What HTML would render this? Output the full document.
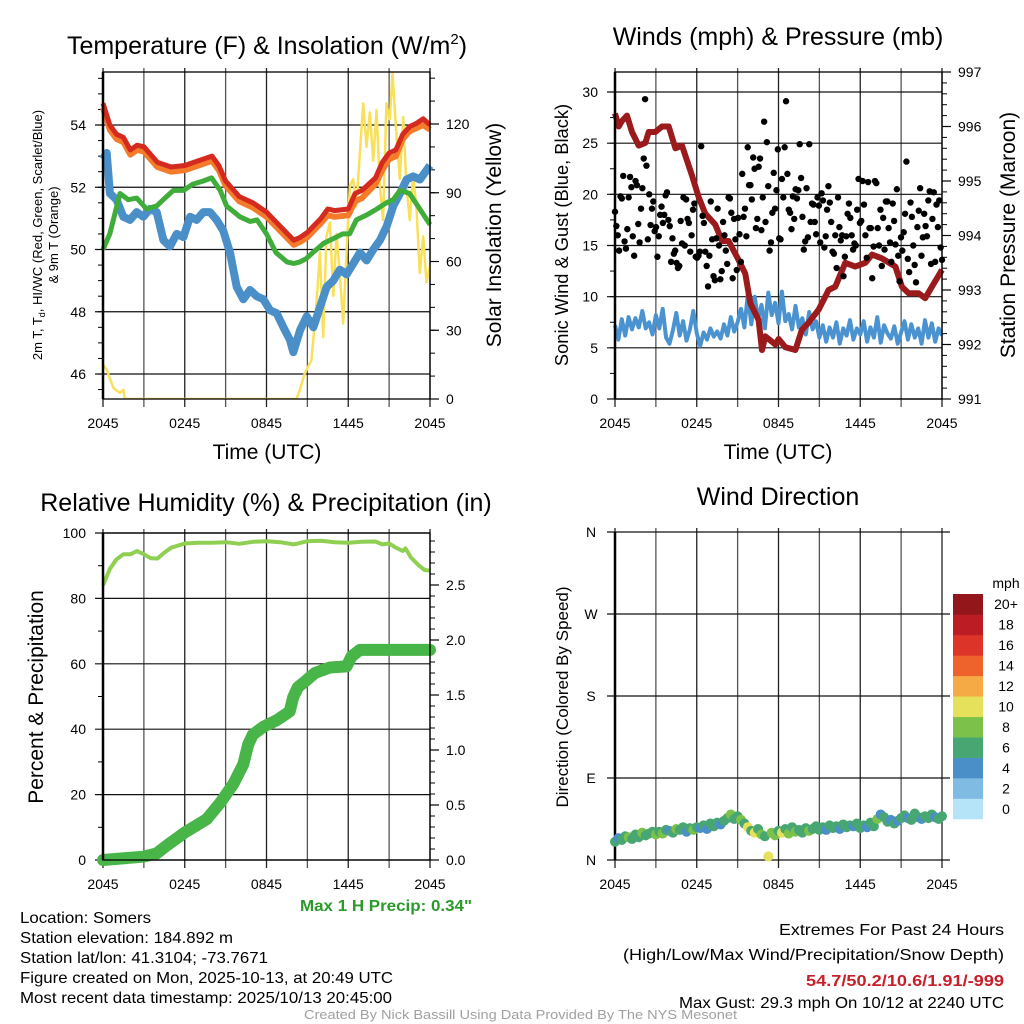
<!DOCTYPE html>
<html><head><meta charset="utf-8"><title>Mesonet Meteogram - Somers</title>
<style>
html,body{margin:0;padding:0;background:#fff;}
svg{display:block;font-family:"Liberation Sans",Arial,sans-serif;}
.tk{font-size:14px;fill:#000;}
.nar{font-family:"Liberation Sans Narrow","Liberation Sans",sans-serif;}
</style></head>
<body>
<svg id="chart" width="1024" height="1024" viewBox="0 0 1024 1024" xmlns="http://www.w3.org/2000/svg">
<rect width="1024" height="1024" fill="#fff"/>
<g id="g1"></g>
<g id="g2"></g>
<g id="g3"></g>
<g id="g4"></g>

<text x="267" y="54" text-anchor="middle" font-size="25">Temperature (F) &amp; Insolation (W/m<tspan dy="-10" font-size="15">2</tspan><tspan dy="10">)</tspan></text>
<text x="778" y="45" text-anchor="middle" font-size="25">Winds (mph) &amp; Pressure (mb)</text>
<text x="266" y="511" text-anchor="middle" font-size="25">Relative Humidity (%) &amp; Precipitation (in)</text>
<text x="778" y="505" text-anchor="middle" font-size="25">Wind Direction</text>

<text x="267" y="459" text-anchor="middle" font-size="21">Time (UTC)</text>
<text x="778" y="459" text-anchor="middle" font-size="21">Time (UTC)</text>

<text transform="translate(42,235) rotate(-90)" text-anchor="middle" font-size="13">2m T, T<tspan font-size="9" dy="3">d</tspan><tspan dy="-3">, HI/WC (Red, Green, Scarlet/Blue)</tspan></text>
<text transform="translate(58,235) rotate(-90)" text-anchor="middle" font-size="13">&amp; 9m T (Orange)</text>
<text transform="translate(501,235) rotate(-90)" text-anchor="middle" font-size="21">Solar Insolation (Yellow)</text>
<text transform="translate(568,235) rotate(-90)" text-anchor="middle" font-size="18.3">Sonic Wind &amp; Gust (Blue, Black)</text>
<text transform="translate(1015,235) rotate(-90)" text-anchor="middle" font-size="21">Station Pressure (Maroon)</text>
<text transform="translate(43,697) rotate(-90)" text-anchor="middle" font-size="21">Percent &amp; Precipitation</text>
<text transform="translate(568,697) rotate(-90)" text-anchor="middle" font-size="17">Direction (Colored By Speed)</text>

<text class="nar" x="300" y="911" font-size="16" font-weight="bold" fill="#2b9a2b" textLength="172" lengthAdjust="spacingAndGlyphs">Max 1 H Precip: 0.34"</text>
<g class="nar" font-size="16">
<text x="20" y="923" textLength="131" lengthAdjust="spacingAndGlyphs">Location: Somers</text>
<text x="20" y="943" textLength="213" lengthAdjust="spacingAndGlyphs">Station elevation: 184.892 m</text>
<text x="20" y="963" textLength="248" lengthAdjust="spacingAndGlyphs">Station lat/lon: 41.3104; -73.7671</text>
<text x="20" y="983" textLength="373" lengthAdjust="spacingAndGlyphs">Figure created on Mon, 2025-10-13, at 20:49 UTC</text>
<text x="20" y="1003" textLength="372" lengthAdjust="spacingAndGlyphs">Most recent data timestamp: 2025/10/13 20:45:00</text>
</g>
<g class="nar" font-size="16">
<text x="779" y="935" textLength="225" lengthAdjust="spacingAndGlyphs">Extremes For Past 24 Hours</text>
<text x="623" y="960" textLength="381" lengthAdjust="spacingAndGlyphs">(High/Low/Max Wind/Precipitation/Snow Depth)</text>
<text x="806" y="986" font-weight="bold" fill="#c8202a" textLength="198" lengthAdjust="spacingAndGlyphs">54.7/50.2/10.6/1.91/-999</text>
<text x="679" y="1008" textLength="325" lengthAdjust="spacingAndGlyphs">Max Gust: 29.3 mph On 10/12 at 2240 UTC</text>
</g>
<text class="nar" x="304" y="1019" font-size="13" fill="#a0a0a0" textLength="433" lengthAdjust="spacingAndGlyphs">Created By Nick Bassill Using Data Provided By The NYS Mesonet</text>
</svg>
<script>
// ---------- data ----------
const xTickLabels = ["2045","0245","0845","1445","2045"];
const tempTicks = [46,48,50,52,54];
const solarTicks = [0,30,60,90,120];
const windTicks = [0,5,10,15,20,25,30];
const presTicks = [991,992,993,994,995,996,997];
const rhTicks = [0,20,40,60,80,100];
const precipTicks = [0.0,0.5,1.0,1.5,2.0,2.5];
const dirTicks = [0,90,180,270,360];
const dirTickLabels = ["N","E","S","W","N"];

const redT = [0,0.5,1,1.5,2,2.5,3,4,5,6,7,8,8.5,9,10,11,12,13,14,14.5,15,16,16.5,17,18,18.5,19,20,20.5,21,21.5,22,22.5,23,23.5,24];
const redV = [54.7,54.0,53.7,53.6,53.2,53.35,53.3,52.8,52.65,52.7,52.85,53.0,52.7,52.2,51.7,51.5,51.2,50.75,50.3,50.4,50.55,51.0,51.3,51.25,51.3,51.8,51.9,52.3,52.8,53.1,53.2,53.7,53.95,54.05,54.2,54.0];
const orangeV = [54.55,53.85,53.55,53.45,53.05,53.2,53.15,52.65,52.5,52.55,52.7,52.85,52.55,52.05,51.55,51.35,51.05,50.6,50.15,50.25,50.4,50.85,51.1,51.05,51.1,51.55,51.65,52.1,52.55,52.9,53.0,53.55,53.8,53.9,54.0,53.85];
const greenT = [0,0.5,1.25,1.86,2.47,3.2,3.94,4.67,5.16,5.9,6.6,7.36,7.97,8.6,9.07,10.05,10.8,11.3,12.0,12.7,13.5,14.0,14.45,14.9,15.4,16.2,16.9,17.6,18.1,18.6,19.3,20.1,20.8,21.3,21.8,22.5,23.25,24];
const greenV = [50.0,50.5,51.8,51.6,51.65,51.3,51.4,51.7,51.9,51.9,52.1,52.2,52.3,51.9,51.4,51.05,50.9,50.95,50.5,49.9,49.6,49.55,49.6,49.7,49.9,50.2,50.35,50.5,50.5,50.95,51.1,51.3,51.5,51.6,51.9,51.8,51.3,50.8];
const blueT = [0,0.27,0.51,1.0,1.49,1.98,2.47,2.96,3.45,3.94,4.43,4.92,5.41,5.9,6.39,6.87,7.36,7.85,8.34,8.83,9.32,9.81,10.3,10.79,11.28,11.77,12.26,12.75,13.24,13.72,13.97,14.46,14.95,15.44,15.93,16.42,16.9,17.39,17.88,18.37,18.86,19.35,19.84,20.33,20.82,21.31,21.8,22.28,22.77,23.26,24];
const blueV = [52.9,53.1,51.8,51.6,51.05,50.95,51.2,51.05,51.3,51.2,50.3,50.1,50.5,50.4,51.05,50.95,51.2,51.2,50.95,50.6,49.9,48.8,48.4,48.7,48.5,48.4,48.05,47.95,47.5,47.1,46.7,47.4,47.85,47.5,48.15,48.8,49.0,49.35,49.2,49.55,49.9,49.65,50.0,50.3,50.75,51.4,51.8,52.25,52.35,52.25,52.7];
const solarT = [0,0.27,0.76,1.25,1.49,1.61,14.2,14.45,14.8,15.3,15.67,15.92,16.16,16.4,16.65,16.9,17.14,17.38,17.63,17.87,18.12,18.36,18.6,18.85,19.1,19.34,19.58,19.83,20.07,20.32,20.56,20.8,21.05,21.25,21.54,21.78,22.03,22.27,22.52,22.76,23.0,23.25,23.5,23.74,24];
const solarV = [15,12.8,4.8,2.6,4,0,0,4,11,17,42,64,27,71,77,45,72,55,33,64,93,96,84,107,129,110,125,104,126,93,78,129,122,142,115,96,123,93,78,97,84,55,71,51,58];

const presT = [0,0.27,0.51,0.88,1.25,1.74,2.23,2.47,2.96,3.45,3.94,4.43,4.92,5.65,6.14,6.63,7.36,7.85,8.34,9.07,9.56,9.93,10.54,10.79,11.03,11.77,12.01,12.5,13.24,13.72,14.21,14.95,15.68,16.17,16.9,17.63,18.37,18.86,19.6,20.58,21.06,21.55,22.28,22.77,23.26,24];
const presV = [996.24,996.0,996.1,996.2,995.9,995.65,995.7,995.9,995.9,996.0,996.0,995.6,995.65,995.1,994.7,994.4,994.2,993.9,993.9,993.55,993.3,992.76,992.45,991.9,992.15,992.0,992.1,991.95,991.9,992.27,992.4,992.64,993.0,993.06,993.5,993.43,993.5,993.65,993.58,993.43,993.06,992.94,992.94,992.85,993.06,993.37];
// sonic wind speed every 15 min (0..24h)
const windV = [7.2,5.8,7.8,6.2,8.0,6.8,7.9,7.0,8.6,6.9,7.5,6.3,8.2,
 6.9,8.8,6.0,5.4,6.7,8.4,6.2,7.6,5.7,6.8,8.6,6.4,
 5.2,6.5,5.8,6.9,6.1,6.6,5.9,7.3,6.2,8.0,6.6,7.5,
 8.8,7.0,10.2,7.3,10.0,7.8,9.2,6.9,10.4,8.2,9.4,7.4,
 10.5,7.6,8.3,6.8,9.1,7.0,7.9,6.3,8.5,6.8,7.6,6.0,
 7.2,5.6,7.0,6.0,7.5,5.4,6.9,6.2,7.7,5.8,6.9,6.3,
 7.6,5.6,7.0,6.0,8.0,5.5,7.2,6.4,5.9,7.1,5.4,6.5,
 7.6,5.8,7.3,6.0,6.9,5.4,7.7,6.0,7.4,5.6,6.9,6.2];
// wind direction (deg) every 15 min
const dirV = [20,24,22,26,25,23,28,25,30,27,29,31,28,
 31,29,33,32,30,34,33,36,31,35,33,36,
 35,38,34,40,37,41,39,43,46,50,45,48,
 44,40,36,32,30,34,28,26,4,30,27,32,
 30,34,29,36,31,33,30,35,32,34,37,33,
 36,33,38,35,37,34,39,36,38,37,40,35,
 38,36,41,37,45,50,47,42,44,40,43,46,
 49,46,44,51,47,45,48,46,50,47,45,48];
// gust values in chronological order (evenly spaced over 24h)
const gustV = [18.3,16.9,16.0,14.5,19.8,19.6,21.8,15.4,14.7,16.6,19.7,21.7,20.7,15.9,14.0,21.3,20.9,17.1,15.3,18.6,20.6,23.5,29.3,22.8,15.6,20.0,17.0,18.6,19.3,16.4,16.8,13.9,15.9,18.0,
 18.8,17.2,18.0,19.9,20.2,17.5,16.9,13.4,15.7,14.2,14.5,13.3,12.8,13.0,17.4,15.2,19.7,15.0,19.5,17.6,17.2,14.4,16.0,18.5,19.1,13.9,13.8,14.0,14.4,24.7,
 17.9,17.2,14.4,13.0,11.0,14.0,19.3,15.6,12.0,11.6,15.7,18.6,15.0,11.7,12.5,17.3,16.0,14.5,13.2,19.7,19.6,18.2,11.8,17.6,15.6,12.6,17.7,16.1,13.4,
 22.0,17.8,18.6,15.9,24.6,20.9,20.9,19.5,23.6,22.5,16.7,17.6,22.7,23.5,16.5,19.7,27.1,17.3,25.1,20.8,14.5,15.3,18.2,22.1,18.6,20.4,24.4,15.7,
 15.6,21.5,19.7,24.6,29.1,22.0,18.5,18.2,16.6,19.8,17.6,20.5,19.6,20.4,24.9,21.6,17.8,14.6,15.4,20.6,15.8,24.9,17.3,19.1,19.0,17.3,16.1,19.7,
 18.9,15.3,20.1,19.4,14.8,15.9,18.5,20.8,19.2,17.3,14.4,14.2,16.0,12.8,19.7,16.8,15.5,16.0,12.0,13.9,15.9,18.1,19.1,17.7,16.0,14.6,15.2,15.0,
 18.5,21.5,17.2,17.4,21.3,19.0,16.0,13.8,21.2,16.7,16.7,11.8,14.9,21.3,21.1,16.7,15.0,18.5,13.0,17.7,14.6,19.3,19.3,16.7,15.3,13.4,19.1,17.4,15.1,
 20.5,14.0,11.5,15.8,14.5,16.3,18.1,23.2,13.7,12.4,19.2,17.8,15.0,13.1,11.4,16.8,18.4,20.6,14.0,15.8,18.1,16.9,15.9,19.4,20.3,13.2,17.6,20.2,13.4,19.0,16.8,19.4,14.8,13.6];

const rhT = [0,0.5,1,1.5,2,2.5,3,3.5,4,4.5,5,6,7,8,9,10,11,12,13,14,15,16,17,18,19,20,20.5,21,21.5,22,22.2,22.6,23.2,23.6,24];
const rhV = [84,89,92,93.5,93.5,94.5,93.5,92.3,92.2,94,95.5,96.8,97,97,97.2,96.7,97.3,97.5,97.2,96.5,97.5,97.6,97.2,97,97.3,97.4,96.5,96.8,95.5,94.5,95.3,92.5,90,88.7,88.5];
const precipT = [0,2.96,3.94,4.67,6.0,7.6,8.6,9.56,10.3,10.66,11.0,11.76,12.74,13.7,13.96,14.3,14.9,15.55,16.65,17.87,18.24,18.85,24];
const precipV = [0,0.03,0.06,0.13,0.25,0.37,0.52,0.69,0.87,1.05,1.14,1.21,1.27,1.35,1.48,1.57,1.63,1.70,1.75,1.76,1.85,1.91,1.91];

const speedBins = [0,2,4,6,8,10,12,14,16,18,20];
const speedBinLabels = ["0","2","4","6","8","10","12","14","16","18","20+"];
const speedColors = ["#b5e3f8","#80bbe4","#4a8fc7","#48a673","#7cc24a","#e6e15a","#f6aa45","#ee632c","#dc3428","#bc1d25","#93161a"];

// ---------- helpers ----------
const NS = "http://www.w3.org/2000/svg";
function mk(parent, tag, attrs){ const e=document.createElementNS(NS,tag); for(const k in attrs) e.setAttribute(k,attrs[k]); parent.appendChild(e); return e; }
function lin(d0,d1,r0,r1){ return v => r0+(v-d0)*(r1-r0)/(d1-d0); }
function pathD(xs,ys,fx,fy){ return xs.map((t,i)=>(i?"L":"M")+fx(t).toFixed(1)+","+fy(ys[i]).toFixed(1)).join(""); }

function frame(g, x0,x1,y0,y1, yticksL, fyL, labelsL, yticksR, fyR, labelsR, minorL, minorR){
  const fx = lin(0,24,x0,x1);
  for(let h=0; h<=24; h+=3){
    const x=fx(h);
    const gl = mk(g,"line",{x1:x,x2:x,y1:y0-4,y2:y1+8,stroke:(h%6===3?"#555":"#222"),"stroke-width":1.3});
    
    
  }
  yticksL.forEach((v,i)=>{
    const y=fyL(v);
    const hl = mk(g,"line",{x1:x0-8,x2:x1,y1:y,y2:y,stroke:"#111","stroke-width":1.2});
    
    
    const t = mk(g,"text",{x:x0-17,y:y+5,"text-anchor":"end",class:"tk"});
    t.textContent = labelsL[i];
    
    
  });
  minorL.forEach(v=>{ const y=fyL(v); if(y>=y0 && y<=y1) mk(g,"line",{x1:x0-5,x2:x0,y1:y,y2:y,stroke:"#000","stroke-width":1}); });
  if(yticksR){
    yticksR.forEach((v,i)=>{
      const y=fyR(v);
      mk(g,"line",{x1:x1,x2:x1+9,y1:y,y2:y,stroke:"#000","stroke-width":1.2});
      const t = mk(g,"text",{x:x1+16,y:y+5,class:"tk"});
      t.textContent = labelsR[i];
      
      
    });
    minorR.forEach(v=>{ const y=fyR(v); if(y>=y0 && y<=y1) mk(g,"line",{x1:x1,x2:x1+5,y1:y,y2:y,stroke:"#000","stroke-width":1}); });
  }
  xTickLabels.forEach((s,i)=>{
    const t = mk(g,"text",{x:fx(i*6),y:y1+29,"text-anchor":"middle",class:"tk"});
    t.textContent = s;
    
    
  });
  return fx;
}
function border(g,x0,x1,y0,y1){
  const r = mk(g,"rect",{x:x0,y:y0,width:x1-x0,height:y1-y0,fill:"none",stroke:"#000","stroke-width":1.3});
  
  
  mk(g,"line",{x1:x0,x2:x0,y1:y0,y2:y1,stroke:"#000","stroke-width":2.5});
}
function range(a,b,s){ const r=[]; for(let v=a; v<=b+1e-9; v+=s) r.push(+v.toFixed(3)); return r; }

// ---------- panel 1 ----------
(function(){
  const g=document.getElementById("g1");
  const x0=103,x1=430,y0=72,y1=399;
  const fyT = lin(54,46,125,374), fyS = lin(0,120,399,124);
  const fx = frame(g,x0,x1,y0,y1,tempTicks,fyT,tempTicks.map(String),solarTicks,fyS,solarTicks.map(String),range(45.5,55.5,0.5),range(10,140,10));
  const clip = mk(g,"clipPath",{id:"c1"}); mk(clip,"rect",{x:x0-6,y:y0,width:x1-x0+12,height:y1-y0});
  const s = mk(g,"g",{"clip-path":"url(#c1)"});
  const a = mk(s,"path",{d:pathD(solarT,solarV,fx,fyS),fill:"none",stroke:"#f9e05b","stroke-width":2.5,"stroke-linejoin":"round"});
   
  const b = mk(s,"path",{d:pathD(blueT,blueV,fx,fyT),fill:"none",stroke:"#4a8fc8","stroke-width":8,"stroke-linejoin":"round"});
   
  const c = mk(s,"path",{d:pathD(greenT,greenV,fx,fyT),fill:"none",stroke:"#3fad3a","stroke-width":5,"stroke-linejoin":"round"});
   
  const d = mk(s,"path",{d:pathD(redT,orangeV,fx,fyT),fill:"none",stroke:"#f47b2a","stroke-width":6,"stroke-linejoin":"round"});
   
  const e = mk(s,"path",{d:pathD(redT,redV,fx,fyT),fill:"none",stroke:"#d52a1f","stroke-width":5,"stroke-linejoin":"round"});
   
  border(g,x0,x1,y0,y1);
})();

// ---------- panel 2 ----------
(function(){
  const g=document.getElementById("g2");
  const x0=615,x1=942,y0=72,y1=399;
  const fyW = lin(0,30,399,92), fyP = lin(991,997,399,72);
  const fx = frame(g,x0,x1,y0,y1,windTicks,fyW,windTicks.map(String),presTicks,fyP,presTicks.map(String),range(2.5,30,2.5),range(991,997,0.2));
  const s = mk(g,"g",{});
  const n = windV.length;
  const tW = windV.map((v,i)=>i*24/(n-1));
  const w = mk(s,"path",{d:pathD(tW,windV,fx,fyW),fill:"none",stroke:"#4a93d0","stroke-width":4,"stroke-linejoin":"round"});
   
  const p = mk(s,"path",{d:pathD(presT,presV,fx,fyP),fill:"none",stroke:"#9b1b1d","stroke-width":6,"stroke-linejoin":"round"});
   
  const ng = gustV.length;
  gustV.forEach((v,i)=>{
    const c = mk(s,"circle",{cx:fx(i*24/(ng-1)),cy:fyW(v),r:3.2,fill:"#000"});
    
    
  });
  border(g,x0,x1,y0,y1);
})();

// ---------- panel 3 ----------
(function(){
  const g=document.getElementById("g3");
  const x0=103,x1=430,y0=533,y1=860;
  const fyR = lin(0,100,860,533), fyP = lin(0,2.5,860,585);
  const fx = frame(g,x0,x1,y0,y1,rhTicks,fyR,rhTicks.map(String),precipTicks,fyP,precipTicks.map(v=>v.toFixed(1)),range(10,90,20),range(0.1,2.9,0.1));
  const a = mk(g,"path",{d:pathD(rhT,rhV,fx,fyR),fill:"none",stroke:"#8fcf52","stroke-width":4,"stroke-linejoin":"round"});
   
  const b = mk(g,"path",{d:pathD(precipT,precipV,fx,fyP),fill:"none",stroke:"#48b548","stroke-width":12,"stroke-linejoin":"round","stroke-linecap":"round"});
   
  border(g,x0,x1,y0,y1);
})();

// ---------- panel 4 ----------
(function(){
  const g=document.getElementById("g4");
  const x0=615,x1=942,y0=532,y1=860;
  const fyD = lin(0,360,860,532);
  const fx = lin(0,24,x0,x1);
  for(let h=0; h<=24; h+=3){
    const gl = mk(g,"line",{x1:fx(h),x2:fx(h),y1:y0-4,y2:y1+8,stroke:(h%6===3?"#555":"#222"),"stroke-width":1.3});
    
    
  }
  dirTicks.forEach((v,i)=>{
    const y=fyD(v);
    const hl = mk(g,"line",{x1:x0-8,x2:x1+8,y1:y,y2:y,stroke:"#111","stroke-width":1.2});
    
    
    const t = mk(g,"text",{x:591,y:y+5,"text-anchor":"middle",class:"tk"});
    t.textContent = dirTickLabels[i];
    
    
  });
  xTickLabels.forEach((s,i)=>{
    const t = mk(g,"text",{x:fx(i*6),y:y1+29,"text-anchor":"middle",class:"tk"});
    t.textContent = s;
    
    
  });
  mk(g,"line",{x1:x0,x2:x0,y1:y0,y2:y1,stroke:"#000","stroke-width":2.5});
  const n = dirV.length;
  function colorFor(v){ let k=0; for(let j=0;j<speedBins.length;j++) if(v>=speedBins[j]) k=j; return speedColors[k]; }
  dirV.forEach((d,i)=>{
    const c = mk(g,"circle",{cx:fx(i*24/(n-1)),cy:fyD(d),r:5,fill:colorFor(windV[i])});
    
    
  });
  const cb = mk(g,"g",{});
  
  
  const by0=594, by1=819, bh=(by1-by0)/speedColors.length;
  speedColors.forEach((c,i)=>{
    const j = speedColors.length-1-i;
    const r = mk(cb,"rect",{x:953,y:by0+j*bh,width:30,height:bh+0.3,fill:c});
    
    
    const t = mk(cb,"text",{x:1006,y:by0+j*bh+bh/2+5,"text-anchor":"middle",class:"tk"});
    t.textContent = speedBinLabels[i];
    
    
  });
  const u = mk(cb,"text",{x:1006,y:588,"text-anchor":"middle",class:"tk"});
  u.textContent="mph";
  
  
})();
</script>
</body></html>
